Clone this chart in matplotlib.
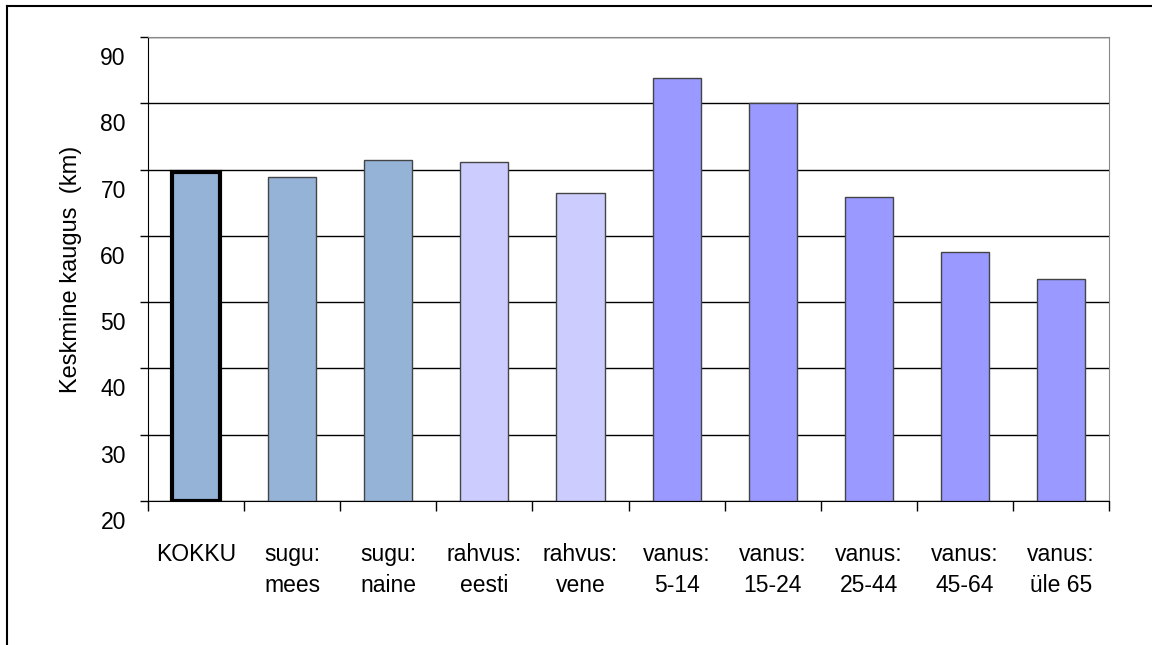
import numpy as np
import matplotlib
matplotlib.use("Agg")
import matplotlib.pyplot as plt
import matplotlib.transforms as mtransforms
from matplotlib.lines import Line2D

plt.rcParams['font.family'] = ['Liberation Sans', 'DejaVu Sans']

# Data
categories = ['KOKKU', 'sugu:\nmees', 'sugu:\nnaine', 'rahvus:\neesti', 'rahvus:\nvene',
              'vanus:\n5-14', 'vanus:\n15-24', 'vanus:\n25-44', 'vanus:\n45-64', 'vanus:\nüle 65']
values = [69.7, 68.9, 71.4, 71.1, 66.5, 83.8, 80.0, 65.9, 57.6, 53.5]
groups = ['total', 'sex', 'sex', 'nat', 'nat', 'age', 'age', 'age', 'age', 'age']
group_colors = {'total': '#95B3D7', 'sex': '#95B3D7', 'nat': '#CCCCFF', 'age': '#9999FF'}

fig = plt.figure(figsize=(11.52, 6.45), dpi=100)
ax = fig.add_axes([0.1285, 0.2233, 0.8342, 0.7193])

x = np.arange(len(categories))
colors = [group_colors[g] for g in groups]
bars = ax.bar(x, [v - 20 for v in values], bottom=20, width=0.5, color=colors,
              edgecolor='#444444', linewidth=1.0, zorder=3)
# first bar is highlighted with a thick black border
bars[0].set_edgecolor('black')
bars[0].set_linewidth(3)

ax.set_xlim(-0.5, len(categories) - 0.5)
ax.set_ylim(20, 90)
ax.set_yticks(np.arange(20, 91, 10))
ax.yaxis.grid(True, color='black', linewidth=1.0, zorder=0)
ax.set_axisbelow(True)

# category labels at centres, tick marks at boundaries
ax.set_xticks(x)
ax.set_xticklabels(categories, fontsize=16.5, va='top', linespacing=1.45)
ax.tick_params(axis='x', which='major', length=0, pad=30)
ax.set_xticks(np.arange(-0.5, len(categories), 1.0), minor=True)
ax.tick_params(axis='x', which='minor', length=7, width=1, direction='out', color='black')

ax.tick_params(axis='y', length=6, width=1, direction='out', pad=10, labelsize=16.5)
# y tick labels sit a bit below their ticks in the original
offset = mtransforms.ScaledTranslation(0, -0.19, fig.dpi_scale_trans)
for lab in ax.get_yticklabels():
    lab.set_transform(lab.get_transform() + offset)

ax.set_ylabel('Keskmine kaugus  (km)', fontsize=17)
ax.yaxis.set_label_coords(-0.069, 0.5)

for side in ['top', 'right']:
    ax.spines[side].set_color('#888888')
for side in ['left', 'bottom']:
    ax.spines[side].set_color('black')

# outer frame (top and left edges only visible)
fig.add_artist(Line2D([0.006, 1.0], [0.991, 0.991], transform=fig.transFigure,
                      color='black', linewidth=1.5))
fig.add_artist(Line2D([0.006, 0.006], [0.0, 0.991], transform=fig.transFigure,
                      color='black', linewidth=1.5))

fig.savefig('out.png', dpi=100, facecolor='white')
